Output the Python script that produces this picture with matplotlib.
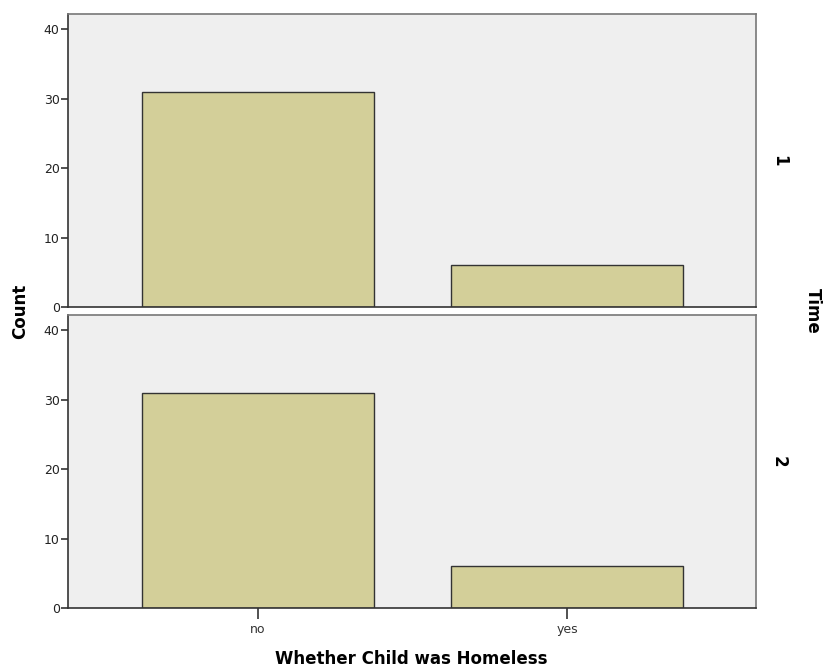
import matplotlib
matplotlib.use('Agg')
import matplotlib.pyplot as plt

categories = ['no', 'yes']
time_labels = ['1', '2']
counts_t1 = [31, 6]
counts_t2 = [31, 6]

bar_color = '#d3cf99'
bg_color = '#efefef'

fig = plt.figure(figsize=(8.25, 6.7), dpi=100)
ax1 = fig.add_axes([0.0824, 0.5418, 0.834, 0.4373])
ax2 = fig.add_axes([0.0824, 0.0925, 0.834, 0.4373])

for ax, counts, lab in [(ax1, counts_t1, time_labels[0]), (ax2, counts_t2, time_labels[1])]:
    ax.set_facecolor(bg_color)
    ax.bar(range(len(categories)), counts, width=0.75, color=bar_color,
           edgecolor='#333333', linewidth=1.0, zorder=2)
    ax.set_xlim(-0.615, 1.612)
    ax.set_ylim(0, 42.2)
    ax.set_yticks([0, 10, 20, 30, 40])
    ax.tick_params(axis='y', direction='out', length=5, width=1.2,
                   labelsize=9, colors='#333333', labelcolor='#222222', pad=1)
    for s in ['top', 'right']:
        ax.spines[s].set_color('#777777')
        ax.spines[s].set_linewidth(1.2)
    for s in ['left', 'bottom']:
        ax.spines[s].set_color('#333333')
        ax.spines[s].set_linewidth(1.2)
    ax.text(1.02, 0.5, lab, transform=ax.transAxes, rotation=-90,
            ha='left', va='center', fontsize=12, fontweight='bold')

ax1.set_xticks([])
ax2.set_xticks(range(len(categories)))
ax2.set_xticklabels(categories)
ax2.tick_params(axis='x', direction='out', length=8, width=1.2,
                labelsize=9, colors='#333333', labelcolor='#333333', pad=3)

fig.text(0.025, 0.536, 'Count', rotation=90, ha='center', va='center',
         fontsize=12, fontweight='bold')
fig.text(0.985, 0.536, 'Time', rotation=-90, ha='center', va='center',
         fontsize=12, fontweight='bold')
fig.text(0.499, 0.016, 'Whether Child was Homeless', ha='center', va='center',
         fontsize=12, fontweight='bold')

fig.savefig('out.png', dpi=100)
